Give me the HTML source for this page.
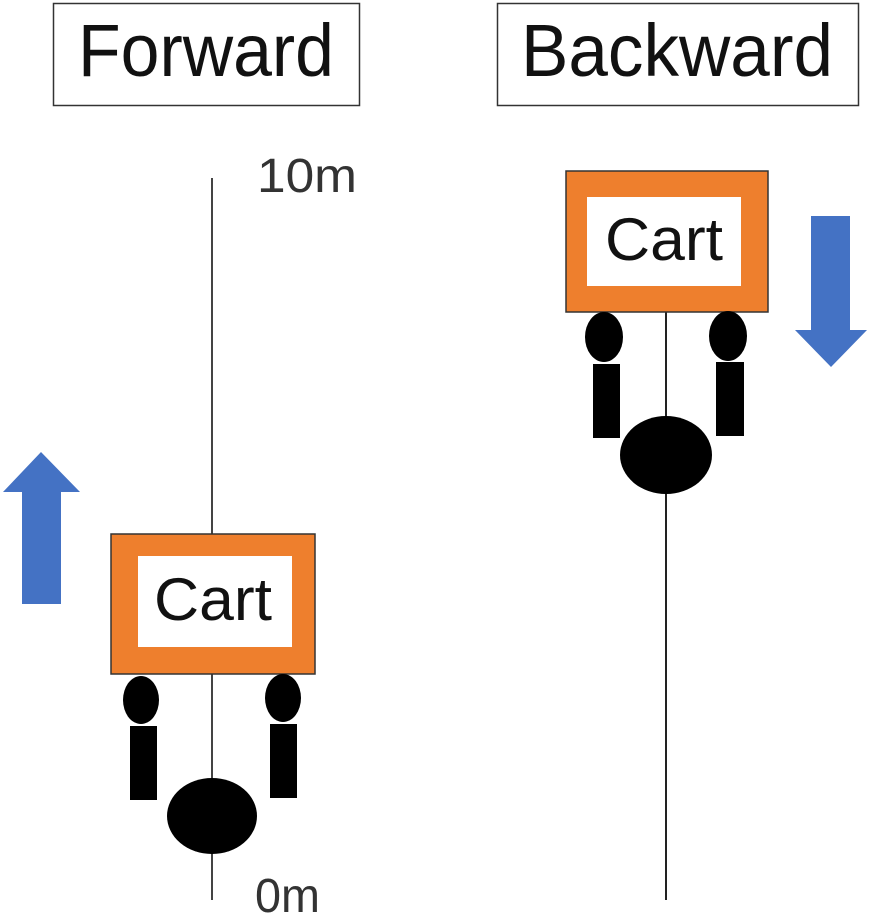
<!DOCTYPE html>
<html><head><style>body{margin:0;background:#fff}svg{display:block}</style></head>
<body>
<svg width="871" height="918" xmlns="http://www.w3.org/2000/svg">
<rect x="53.5" y="3.5" width="306" height="102" fill="#fff" stroke="#333" stroke-width="1.5"/>
<rect x="497.5" y="3.5" width="361" height="102" fill="#fff" stroke="#333" stroke-width="1.5"/>
<text x="206" y="76" font-family="Liberation Sans Narrow, Liberation Sans, sans-serif" font-size="74" text-anchor="middle" fill="#111" textLength="256" lengthAdjust="spacingAndGlyphs">Forward</text>
<text x="677" y="76" font-family="Liberation Sans Narrow, Liberation Sans, sans-serif" font-size="74" text-anchor="middle" fill="#111" textLength="312" lengthAdjust="spacingAndGlyphs">Backward</text>
<text x="257" y="192" font-family="Liberation Sans Narrow, Liberation Sans, sans-serif" font-size="48" fill="#333" textLength="100" lengthAdjust="spacingAndGlyphs">10m</text>
<text x="255" y="912" font-family="Liberation Sans Narrow, Liberation Sans, sans-serif" font-size="48" fill="#333" textLength="65" lengthAdjust="spacingAndGlyphs">0m</text>
<line x1="212" y1="178" x2="212" y2="900" stroke="#444" stroke-width="2"/>
<line x1="666" y1="300" x2="666" y2="900" stroke="#222" stroke-width="2"/>
<rect x="111" y="534" width="204" height="140" fill="#ee7f2d" stroke="#333" stroke-width="1.5"/>
<rect x="138" y="556" width="154" height="91" fill="#fff"/>
<text x="154" y="620" font-family="Liberation Sans, sans-serif" font-size="60" fill="#111" textLength="118" lengthAdjust="spacingAndGlyphs">Cart</text>
<ellipse cx="141" cy="700" rx="18" ry="24" fill="#000"/>
<rect x="130" y="726" width="27" height="74" fill="#000"/>
<ellipse cx="283" cy="698" rx="18" ry="24" fill="#000"/>
<rect x="270" y="724" width="27" height="74" fill="#000"/>
<ellipse cx="212" cy="816" rx="45" ry="38" fill="#000"/>
<polygon points="41,452 80,492 61,492 61,604 22,604 22,492 3,492" fill="#4472c4"/>
<rect x="566" y="171" width="202" height="141" fill="#ee7f2d" stroke="#333" stroke-width="1.5"/>
<rect x="587" y="197" width="154" height="89" fill="#fff"/>
<text x="605" y="260" font-family="Liberation Sans, sans-serif" font-size="60" fill="#111" textLength="118" lengthAdjust="spacingAndGlyphs">Cart</text>
<ellipse cx="604" cy="337" rx="19" ry="25" fill="#000"/>
<rect x="593" y="364" width="27" height="74" fill="#000"/>
<ellipse cx="728" cy="336" rx="19" ry="25" fill="#000"/>
<rect x="716" y="362" width="28" height="74" fill="#000"/>
<ellipse cx="666" cy="455" rx="46" ry="39" fill="#000"/>
<polygon points="811,216 850,216 850,330 867,330 831,367 795,330 811,330" fill="#4472c4"/>
</svg>
</body></html>
